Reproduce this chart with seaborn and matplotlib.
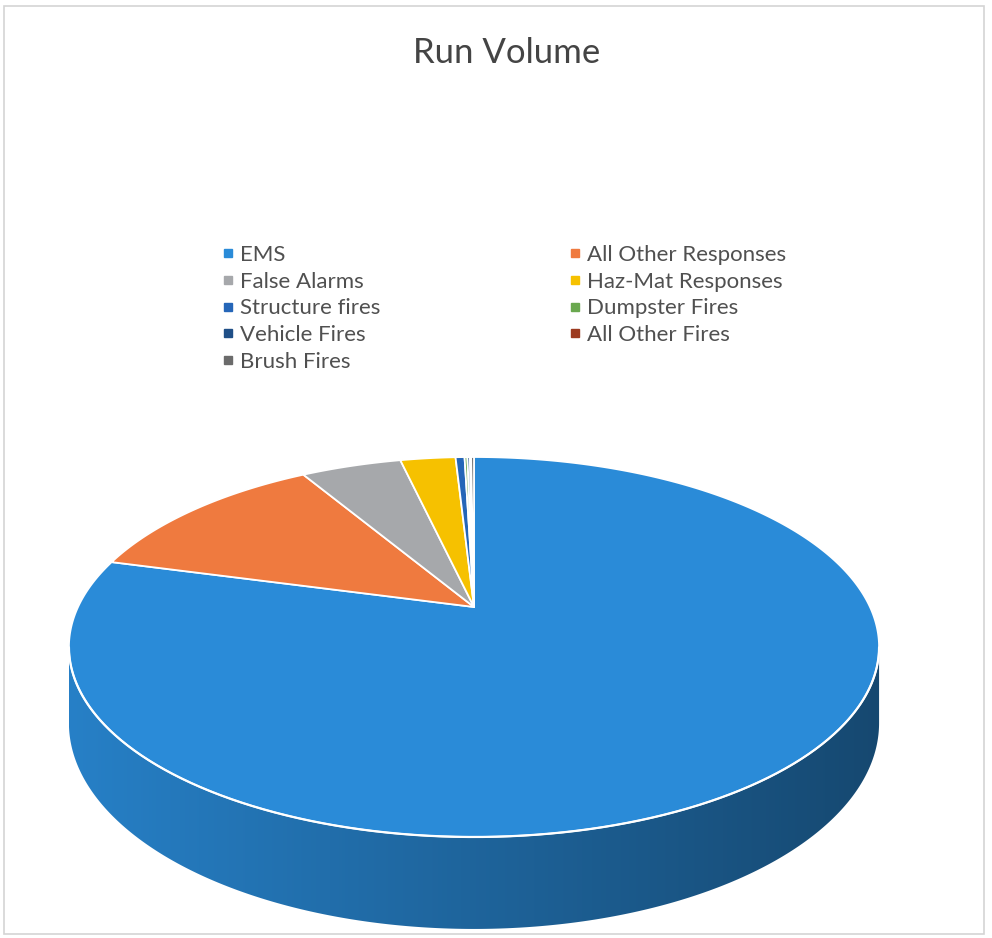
import numpy as np
import matplotlib.pyplot as plt
import seaborn as sns
from matplotlib.patches import Polygon, Rectangle
from matplotlib.lines import Line2D
from matplotlib.colors import to_rgb

# 数据：各类出警次数（按图中扇区角度估读）
categories = ['EMS', 'All Other Responses', 'False Alarms', 'Haz-Mat Responses',
              'Structure fires', 'Dumpster Fires', 'Vehicle Fires', 'All Other Fires',
              'Brush Fires']
runs = [3960, 615, 245, 135, 22, 7, 6, 3, 7]
slice_colors = ['#2a8bd8', '#ef7a3f', '#a6a8ab', '#f6c100', '#2566b8',
                '#6aa84f', '#1f4f87', '#9c3a1f', '#6b6b6b']

sns.set_theme(style='white')
plt.rcParams['font.family'] = ['Lato', 'DejaVu Sans']

fig = plt.figure(figsize=(9.92, 9.38), dpi=100)
ax = fig.add_axes([0, 0, 1, 1])
ax.set_xlim(0, 992)
ax.set_ylim(938, 0)
ax.axis('off')

# 外框
ax.add_patch(Rectangle((4, 6), 980, 928, fill=False, edgecolor='#d4d4d4', lw=1.2))

# 透视参数（像素坐标）
cx, cy = 474, 607
rx = 396
far = 53.8
persp = 0.2105
depth = 72.6


def project(theta, z=0.0):
    # theta 从12点方向顺时针计
    u = np.sin(theta)
    v = np.cos(theta)
    w = 1 + persp * v
    return cx + rx * u / w, (cy - far * v + depth * z) / w


fractions = np.array(runs) / np.sum(runs)
edges = np.concatenate([[0], np.cumsum(fractions)]) * 2 * np.pi

# 侧面：找出可见轮廓
tt = np.linspace(0, 2 * np.pi, 2001)
xs, _ = project(tt)
t_right = tt[np.argmax(xs)]
t_left = tt[np.argmin(xs)]
side_t = np.linspace(t_right, t_left, 400)

# 侧面（可见部分全部属于 EMS），用渐变填充
tx, ty = project(side_t)
bx, by = project(side_t[::-1], 1)
side = Polygon(np.column_stack([np.concatenate([tx, bx]), np.concatenate([ty, by])]),
               closed=True, facecolor='none', edgecolor='none')
ax.add_patch(side)
base = np.array(to_rgb(slice_colors[0]))
gx = np.linspace(tx.min(), tx.max(), 300)
uu = (gx - cx) / (tx.max() - cx)
shade = 0.72 - 0.2 * np.clip(uu, -1, 1)
grad = (shade[:, None] * base[None, :])[None, :, :]
im = ax.imshow(grad, extent=[tx.min(), tx.max(), by.max() + 2, ty.min() - 2],
               aspect='auto', interpolation='bilinear', zorder=1)
im.set_clip_path(side)

# 顶面扇区
for k, (a0, a1) in enumerate(zip(edges[:-1], edges[1:])):
    n = max(int((a1 - a0) / (2 * np.pi) * 720), 4)
    ang = np.linspace(a0, a1, n)
    px, py = project(ang)
    verts = np.column_stack([np.concatenate([[cx], px]), np.concatenate([[cy], py])])
    ax.add_patch(Polygon(verts, closed=True, facecolor=slice_colors[k],
                         edgecolor='white', lw=1.3, joinstyle='round', zorder=2))

# 顶面与侧面之间的白色边线
ax.plot(tx, ty, color='white', lw=1.6, solid_capstyle='round', zorder=3)

# 标题
ax.text(507, 53, 'Run Volume', ha='center', va='center', fontsize=25, color='#444444')

# 图例（Excel 按行排列）
handles = [Line2D([], [], marker='s', linestyle='none', markersize=6,
                  markerfacecolor=c, markeredgecolor=c) for c in slice_colors]
order = [0, 2, 4, 6, 8, 1, 3, 5, 7]
leg = ax.legend([handles[i] for i in order], [categories[i] for i in order],
                ncol=2, loc='upper left', bbox_to_anchor=(211 / 992, 1 - 234 / 938),
                frameon=False, fontsize=16, borderpad=0, handlelength=0.5,
                handletextpad=0.3, labelspacing=0.3, columnspacing=8.5)
for t in leg.get_texts():
    t.set_color('#505050')

fig.savefig('out.png', dpi=100)
